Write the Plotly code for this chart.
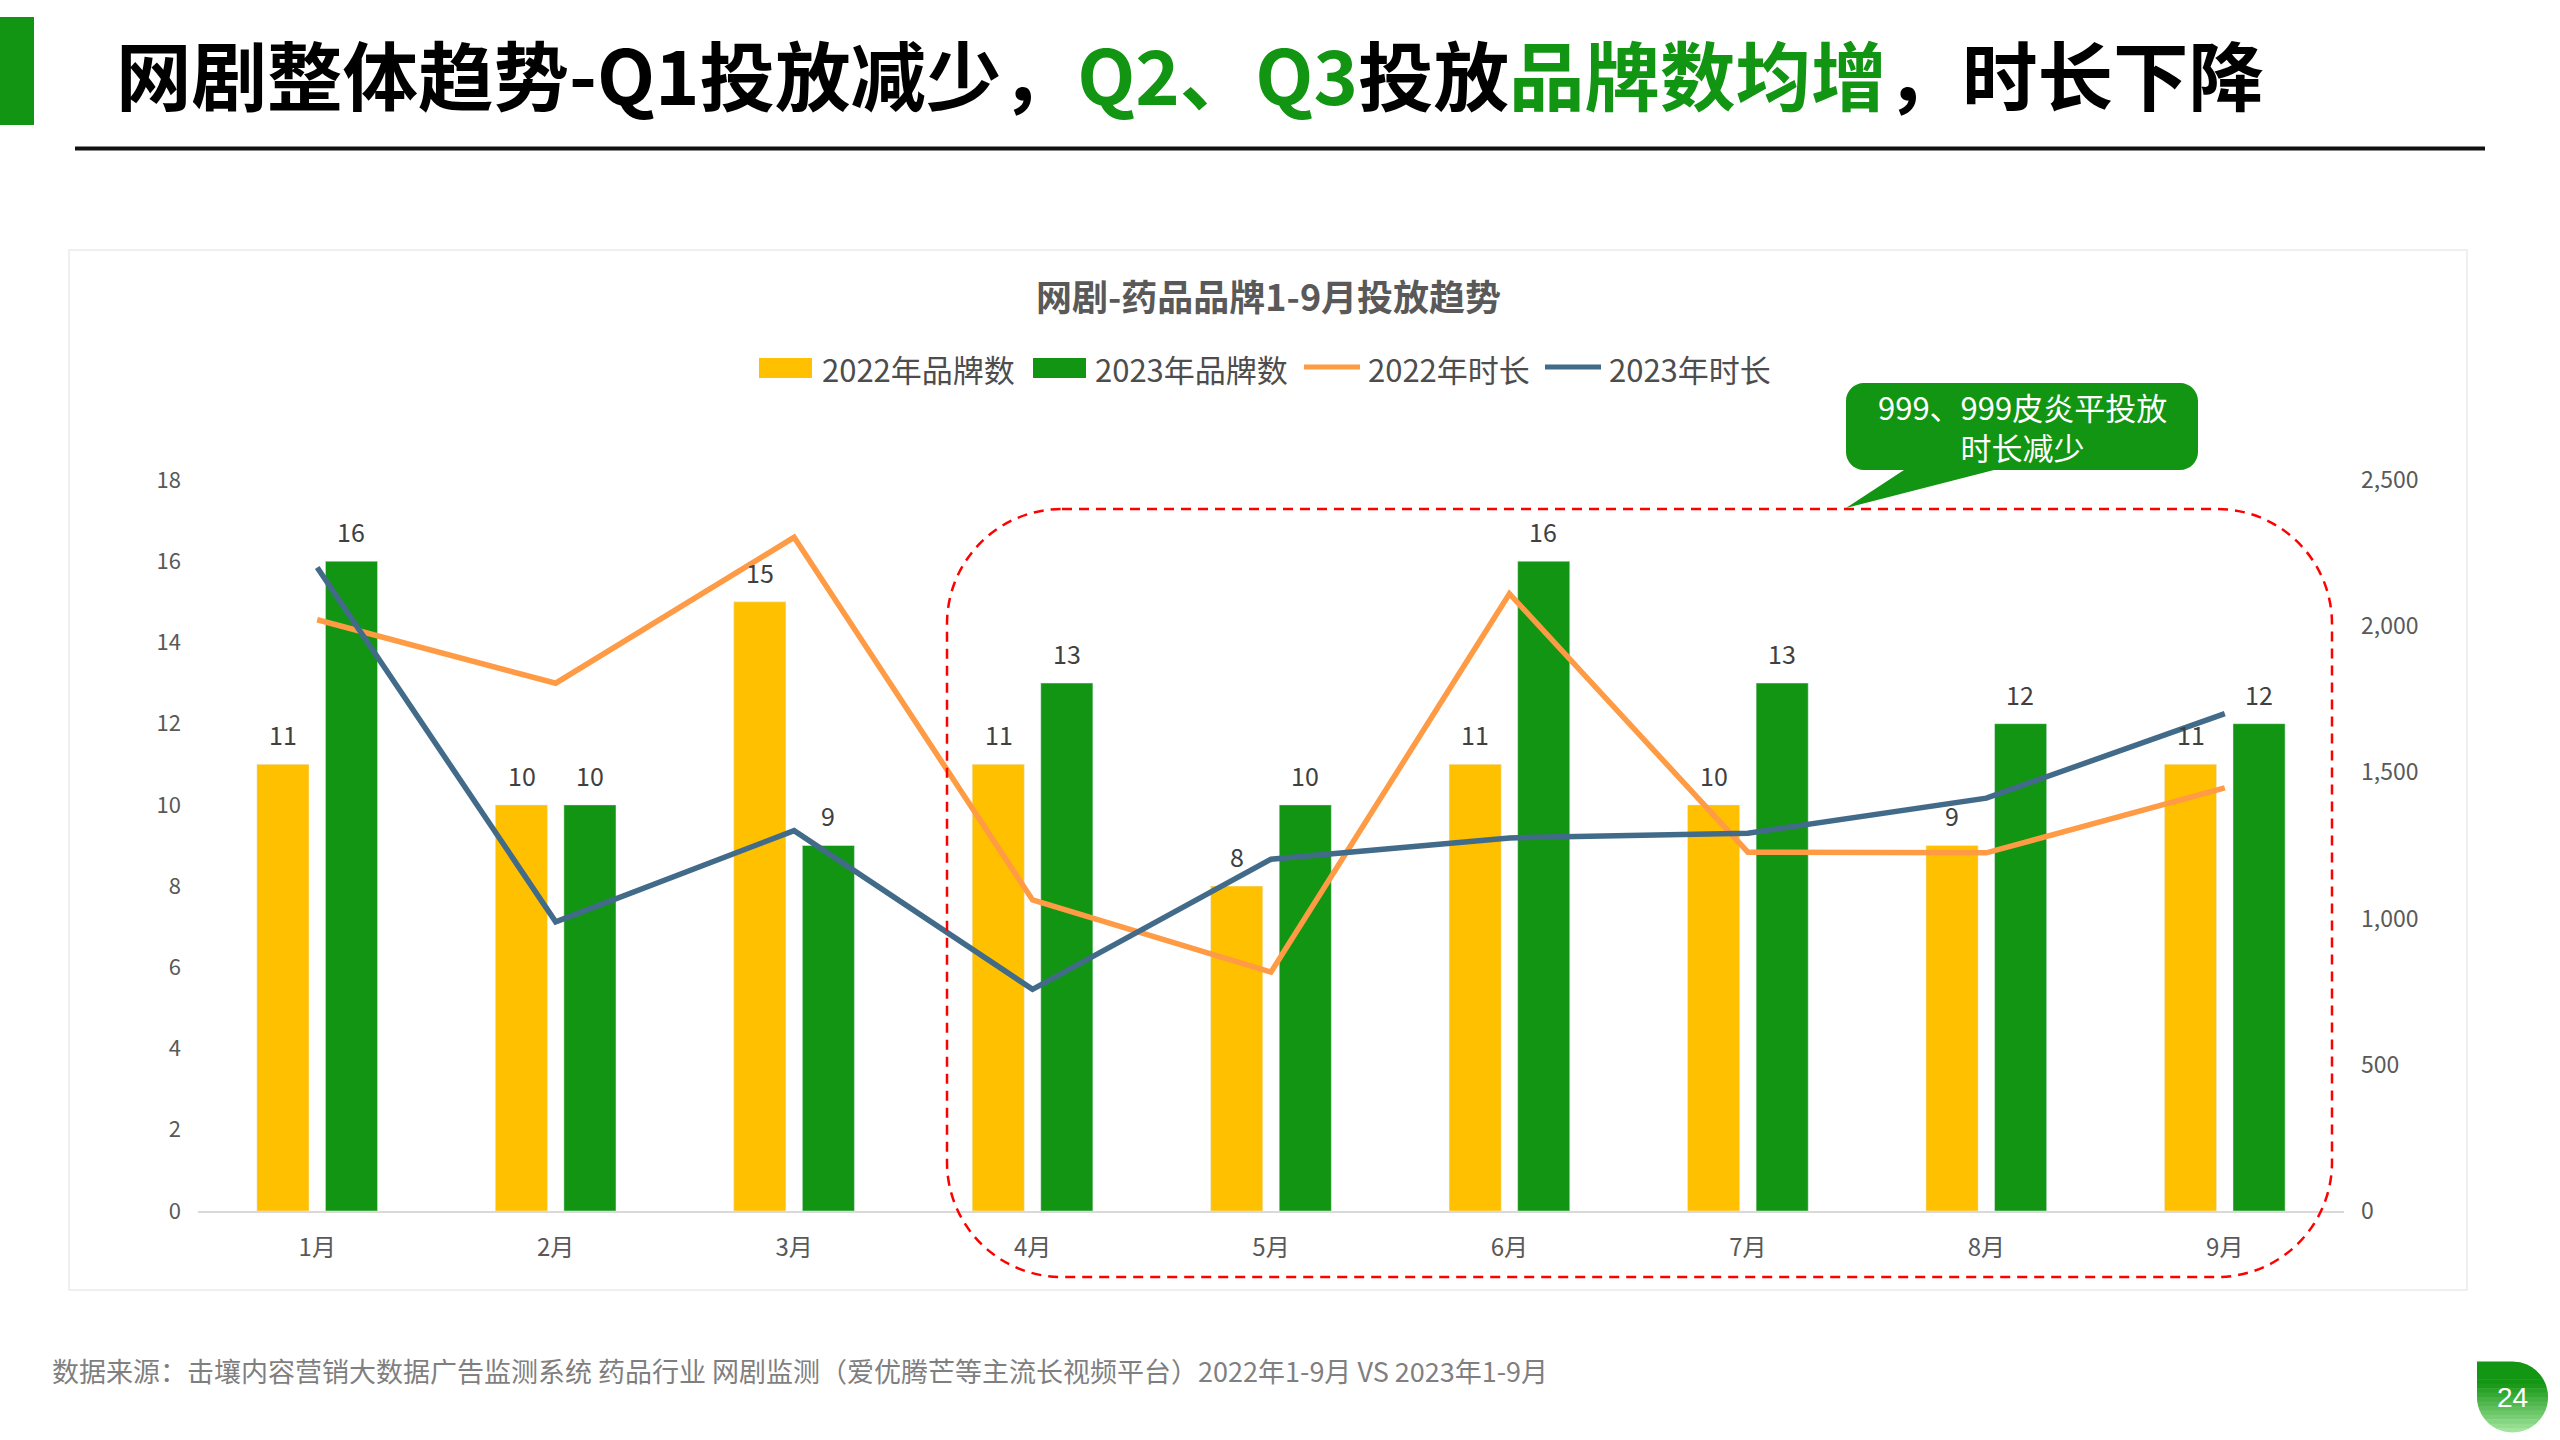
import math
import plotly.graph_objects as go

# ---------------- data ----------------
months = ["1月", "2月", "3月", "4月", "5月", "6月", "7月", "8月", "9月"]
brands_2022 = [11, 10, 15, 11, 8, 11, 10, 9, 11]
brands_2023 = [16, 10, 9, 13, 10, 16, 13, 12, 12]
duration_2022 = [2022, 1805, 2304, 1064, 817, 2111, 1227, 1225, 1447]
duration_2023 = [2201, 989, 1301, 758, 1203, 1276, 1292, 1412, 1701]
series_names = ["2022年品牌数", "2023年品牌数", "2022年时长", "2023年时长"]

left_ticks = list(range(0, 19, 2))
right_ticks = list(range(0, 2501, 500))

W, H = 2560, 1440
FONT = "Noto Sans CJK SC"
C_Y22 = "#FFC000"
C_G23 = "#129512"
C_OR = "#FF9A45"
C_BL = "#426B8A"
GREEN = "#129512"
series_colors = [C_Y22, C_G23, C_OR, C_BL]


def px(x):
    return x / W


def py(y):
    return 1 - y / H


def round_rect_path(x0, y0, x1, y1, r):
    k = 0.5523 * r
    pts = [
        f"M{px(x0 + r)},{py(y0)}",
        f"L{px(x1 - r)},{py(y0)}",
        f"C{px(x1 - r + k)},{py(y0)} {px(x1)},{py(y0 + r - k)} {px(x1)},{py(y0 + r)}",
        f"L{px(x1)},{py(y1 - r)}",
        f"C{px(x1)},{py(y1 - r + k)} {px(x1 - r + k)},{py(y1)} {px(x1 - r)},{py(y1)}",
        f"L{px(x0 + r)},{py(y1)}",
        f"C{px(x0 + r - k)},{py(y1)} {px(x0)},{py(y1 - r + k)} {px(x0)},{py(y1 - r)}",
        f"L{px(x0)},{py(y0 + r)}",
        f"C{px(x0)},{py(y0 + r - k)} {px(x0 + r - k)},{py(y0)} {px(x0 + r)},{py(y0)}",
        "Z",
    ]
    return " ".join(pts)


def callout_path(x0, y0, x1, y1, r, tail_a, tail_b, tip):
    k = 0.5523 * r
    pts = [
        f"M{px(x0 + r)},{py(y0)}",
        f"L{px(x1 - r)},{py(y0)}",
        f"C{px(x1 - r + k)},{py(y0)} {px(x1)},{py(y0 + r - k)} {px(x1)},{py(y0 + r)}",
        f"L{px(x1)},{py(y1 - r)}",
        f"C{px(x1)},{py(y1 - r + k)} {px(x1 - r + k)},{py(y1)} {px(x1 - r)},{py(y1)}",
        f"L{px(tail_b)},{py(y1)}",
        f"L{px(tip[0])},{py(tip[1])}",
        f"L{px(tail_a)},{py(y1)}",
        f"L{px(x0 + r)},{py(y1)}",
        f"C{px(x0 + r - k)},{py(y1)} {px(x0)},{py(y1 - r + k)} {px(x0)},{py(y1 - r)}",
        f"L{px(x0)},{py(y0 + r)}",
        f"C{px(x0)},{py(y0 + r - k)} {px(x0 + r - k)},{py(y0)} {px(x0 + r)},{py(y0)}",
        "Z",
    ]
    return " ".join(pts)


def badge_bands(x0, cy, r, n=16):
    """Teardrop page badge (square top-left corner) filled with a vertical gradient."""
    cx = x0 + r
    top, bot = cy - r, cy + r

    def xl(y):
        if y <= cy:
            return x0
        return cx - math.sqrt(max(r * r - (y - cy) ** 2, 0))

    def xr(y):
        return cx + math.sqrt(max(r * r - (y - cy) ** 2, 0))

    c_top = (0x13, 0x96, 0x13)
    c_bot = (0xA8, 0xE8, 0xA2)
    out = []
    for i in range(n):
        ya = top + (bot - top) * i / n
        yb = min(top + (bot - top) * (i + 1) / n + 0.6, bot)
        t = max(0.0, (i + 0.5) / n - 0.3) / 0.7
        col = "rgb(%d,%d,%d)" % tuple(int(c_top[k] + (c_bot[k] - c_top[k]) * t) for k in range(3))
        ys = [ya + (yb - ya) * j / 6 for j in range(7)]
        pts = [(xl(y), y) for y in ys] + [(xr(y), y) for y in reversed(ys)]
        path = "M" + " L".join(f"{px(a)},{py(b)}" for a, b in pts) + " Z"
        out.append(dict(type="path", xref="paper", yref="paper", path=path,
                        line=dict(width=0), fillcolor=col, layer="above"))
    return out


fig = go.Figure()
fig.add_trace(go.Bar(x=months, y=brands_2022, name=series_names[0], marker_color=C_Y22,
                     yaxis="y", cliponaxis=False))
fig.add_trace(go.Bar(x=months, y=brands_2023, name=series_names[1], marker_color=C_G23,
                     yaxis="y", cliponaxis=False))
fig.add_trace(go.Scatter(x=months, y=duration_2022, name=series_names[2], mode="lines",
                         line=dict(color=C_OR, width=5.5), yaxis="y2"))
fig.add_trace(go.Scatter(x=months, y=duration_2023, name=series_names[3], mode="lines",
                         line=dict(color=C_BL, width=5.5), yaxis="y2"))

annotations = []
# bar value labels
for m, v in zip(months, brands_2022):
    annotations.append(dict(x=m, y=v, xref="x", yref="y", text=str(v), showarrow=False,
                            xshift=-34, yshift=10, yanchor="bottom",
                            font=dict(family=FONT, size=25, color="#404040")))
for m, v in zip(months, brands_2023):
    annotations.append(dict(x=m, y=v, xref="x", yref="y", text=str(v), showarrow=False,
                            xshift=34, yshift=10, yanchor="bottom",
                            font=dict(family=FONT, size=25, color="#404040")))

# page title
title_html = ("<b>网剧整体趋势-Q1投放减少，"
              f"<span style='color:{GREEN}'>Q2、Q3</span>投放"
              f"<span style='color:{GREEN}'>品牌数均增</span>，时长下降</b>")
annotations.append(dict(x=px(114), y=py(72), xref="paper", yref="paper", text=title_html,
                        showarrow=False, xanchor="left", yanchor="middle",
                        font=dict(family=FONT, size=75.5, color="#000000")))
# chart title
annotations.append(dict(x=px(1268), y=py(295), xref="paper", yref="paper",
                        text="<b>网剧-药品品牌1-9月投放趋势</b>", showarrow=False,
                        xanchor="center", yanchor="middle",
                        font=dict(family=FONT, size=36, color="#595959")))
# custom legend (swatches + names)
legend_swatch_x = [759, 1033, 1304, 1545]
legend_text_x = [820, 1093, 1366, 1607]
legend_y = 368
for i, name in enumerate(series_names):
    annotations.append(dict(x=px(legend_text_x[i]), y=py(legend_y), xref="paper", yref="paper",
                            text=name, showarrow=False, xanchor="left", yanchor="middle",
                            font=dict(family=FONT, size=31, color="#4D4D4D")))
# callout text
annotations.append(dict(x=px(2022), y=py(426), xref="paper", yref="paper",
                        text="999、999皮炎平投放<br>时长减少", showarrow=False,
                        xanchor="center", yanchor="middle", align="center",
                        font=dict(family=FONT, size=31, color="#FFFFFF")))
# footer
annotations.append(dict(x=px(50), y=py(1370), xref="paper", yref="paper",
                        text="数据来源：击壤内容营销大数据广告监测系统 药品行业 网剧监测（爱优腾芒等主流长视频平台）2022年1-9月 VS 2023年1-9月",
                        showarrow=False, xanchor="left", yanchor="middle",
                        font=dict(family=FONT, size=27, color="#7F7F7F")))
# page number
annotations.append(dict(x=px(2512), y=py(1397), xref="paper", yref="paper", text="24",
                        showarrow=False, xanchor="center", yanchor="middle",
                        font=dict(family="Liberation Sans, Arial", size=28, color="#FFFFFF")))

shapes = [
    # chart container
    dict(type="rect", xref="paper", yref="paper", x0=px(69), x1=px(2467), y0=py(250), y1=py(1290),
         line=dict(color="#EFEFEF", width=2), fillcolor="rgba(0,0,0,0)", layer="below"),
    # green accent bar
    dict(type="rect", xref="paper", yref="paper", x0=px(0), x1=px(34), y0=py(17), y1=py(125),
         line=dict(width=0), fillcolor=GREEN),
    # title rule
    dict(type="line", xref="paper", yref="paper", x0=px(75), x1=px(2485), y0=py(148.5), y1=py(148.5),
         line=dict(color="#111111", width=4)),
    # red dashed rounded box
    dict(type="path", xref="paper", yref="paper", path=round_rect_path(947, 509, 2332, 1277, 115),
         line=dict(color="#FF0000", width=2.5, dash="10px,7px"), fillcolor="rgba(0,0,0,0)",
         layer="above"),
    # callout bubble
    dict(type="path", xref="paper", yref="paper",
         path=callout_path(1846, 383, 2198, 470, 18, 1904, 1994, (1846, 508)),
         line=dict(width=0), fillcolor=GREEN, layer="above"),
]
# page badge with gradient
shapes += badge_bands(2477, 1397, 35.5)
# legend swatches
for i in range(2):
    x0 = legend_swatch_x[i]
    shapes.append(dict(type="rect", xref="paper", yref="paper", x0=px(x0), x1=px(x0 + 53),
                       y0=py(legend_y + 10), y1=py(legend_y - 10), line=dict(width=0),
                       fillcolor=series_colors[i]))
for i in range(2, 4):
    x0 = legend_swatch_x[i]
    shapes.append(dict(type="line", xref="paper", yref="paper", x0=px(x0), x1=px(x0 + 56),
                       y0=py(legend_y - 1), y1=py(legend_y - 1),
                       line=dict(color=series_colors[i], width=5)))

fig.update_layout(
    width=W, height=H, autosize=False,
    margin=dict(l=0, r=0, t=0, b=0, pad=0, autoexpand=False),
    paper_bgcolor="#FFFFFF", plot_bgcolor="#FFFFFF",
    barmode="group", bargap=0.425, bargroupgap=0.24,
    font=dict(family=FONT, color="#595959"),
    showlegend=False,
    xaxis=dict(domain=[px(198), px(2344)], type="category", showline=True, linecolor="#D9D9D9",
               linewidth=2, ticks="", showgrid=False, ticklabelstandoff=14, automargin=False,
               tickfont=dict(family=FONT, size=24, color="#595959")),
    yaxis=dict(domain=[py(1211), py(480)], range=[0, 18], tickvals=left_ticks, showgrid=False,
               zeroline=False, showline=False, ticks="", ticklabelstandoff=16, automargin=False,
               tickfont=dict(family=FONT, size=22, color="#595959")),
    yaxis2=dict(domain=[py(1211), py(480)], range=[0, 2500], tickvals=right_ticks, tickformat=",",
                overlaying="y", side="right", showgrid=False, zeroline=False, showline=False,
                ticks="", ticklabelstandoff=16, automargin=False,
                tickfont=dict(family=FONT, size=23, color="#595959")),
    annotations=annotations,
    shapes=shapes,
)

fig.write_html("out.html", config={"displayModeBar": False, "responsive": False},
               post_script="document.body.style.margin='0';document.body.style.overflow='hidden';")
